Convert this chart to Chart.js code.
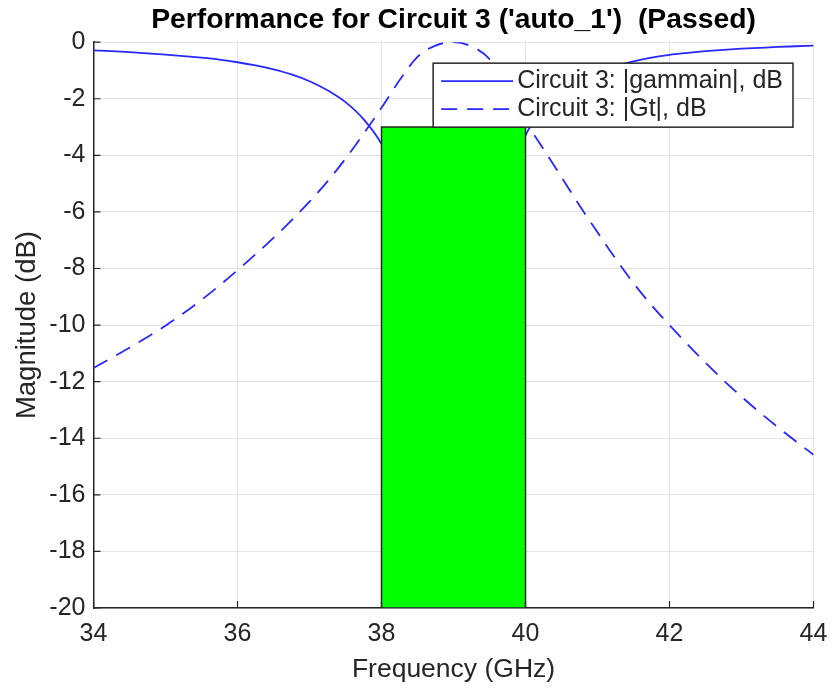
<!DOCTYPE html>
<html>
<head>
<meta charset="utf-8">
<title>Performance for Circuit 3</title>
<script src="https://cdn.jsdelivr.net/npm/chart.js@4.4.1/dist/chart.umd.min.js"></script>
<style>
  html, body { margin: 0; padding: 0; background: #fff; }
  #wrap { width: 832px; height: 690px; }
</style>
</head>
<body>
<div id="wrap"><canvas id="perfChart" width="832" height="690"></canvas></div>
<script>
// frequency grid (GHz)
const freq = [
  34.00, 34.25, 34.50, 34.75, 35.00, 35.25, 35.50, 35.75, 36.00, 36.25,
  36.50, 36.75, 37.00, 37.25, 37.50, 37.75, 38.00, 38.25, 38.50, 38.75,
  39.00, 39.25, 39.50, 39.75, 40.00, 40.25, 40.50, 40.75, 41.00, 41.25,
  41.50, 41.75, 42.00, 42.25, 42.50, 42.75, 43.00, 43.25, 43.50, 43.75, 44.00
]

// |gammain| in dB (notch around 39 GHz is hidden behind the band box)
const gammainDb = [
  -0.29, -0.32, -0.355, -0.395, -0.44, -0.49, -0.55, -0.62, -0.71, -0.82,
  -0.96, -1.14, -1.38, -1.70, -2.12, -2.72, -3.60, -5.00, -7.50, -12.0,
  -25.0, -14.0, -8.50, -5.20, -3.30, -2.35, -1.75, -1.32, -1.04, -0.84,
  -0.68, -0.55, -0.45, -0.38, -0.32, -0.27, -0.23, -0.20, -0.17, -0.145, -0.12
]

// |Gt| in dB
const gtDb = [
  -11.52, -11.16, -10.80, -10.42, -10.02, -9.58, -9.11, -8.60, -8.06, -7.50,
  -6.92, -6.30, -5.64, -4.92, -4.12, -3.24, -2.32, -1.35, -0.52, -0.12,
  0.00, -0.15, -0.60, -1.65, -2.80, -3.78, -4.77, -5.77, -6.72, -7.65,
  -8.52, -9.30, -10.00, -10.68, -11.33, -11.95, -12.53, -13.08, -13.60, -14.10, -14.58
]

// pass band box
const bandFreq = [38, 38, 40, 40, 38]
const bandDb = [-20, -3, -3, -20, -20]

// axis ticks
const xTicks = [34, 36, 38, 40, 42, 44]
const yTicks = [-20, -18, -16, -14, -12, -10, -8, -6, -4, -2, 0]

const FONT = "'Liberation Sans', Arial, sans-serif"
const TEXT = "#262626"
const BLUE = "rgb(40, 40, 255)"

const toPts = (xs, ys) => xs.map((x, i) => ({ x: x, y: ys[i] }))

// MATLAB風の内向き目盛り
const innerTicks = {
  id: "innerTicks",
  afterDatasetsDraw(chart) {
    const { ctx, chartArea } = chart
    const xs = chart.scales.x
    const ys = chart.scales.y
    ctx.save()
    ctx.strokeStyle = TEXT
    ctx.lineWidth = 1.2
    ctx.beginPath()
    xTicks.forEach((v) => {
      const px = xs.getPixelForValue(v)
      ctx.moveTo(px, chartArea.bottom)
      ctx.lineTo(px, chartArea.bottom - 7)
    })
    yTicks.forEach((v) => {
      const py = ys.getPixelForValue(v)
      ctx.moveTo(chartArea.left, py)
      ctx.lineTo(chartArea.left + 7, py)
    })
    ctx.stroke()
    ctx.restore()
  },
}

// 凡例（プロット内右上、白背景＋枠）
const boxLegend = {
  id: "boxLegend",
  afterDatasetsDraw(chart) {
    const { ctx, chartArea } = chart
    const items = chart.data.datasets.filter((d) => !d.isBand)
    ctx.save()
    ctx.font = "25px " + FONT
    const textW = Math.max(...items.map((d) => ctx.measureText(d.label).width))
    const sample = 72
    const right = chartArea.right - 20.5
    const top = chartArea.top + 21
    const w = 8 + sample + 4 + textW + 10
    const h = 64
    const left = right - w
    ctx.fillStyle = "#fff"
    ctx.fillRect(left, top, w, h)
    ctx.strokeStyle = TEXT
    ctx.lineWidth = 1.5
    ctx.strokeRect(left, top, w, h)
    items.forEach((d, i) => {
      const cy = top + 18 + i * 28
      ctx.strokeStyle = d.borderColor
      ctx.lineWidth = d.borderWidth
      ctx.setLineDash(d.borderDash || [])
      ctx.beginPath()
      ctx.moveTo(left + 8, cy)
      ctx.lineTo(left + 8 + sample, cy)
      ctx.stroke()
      ctx.setLineDash([])
      ctx.fillStyle = TEXT
      ctx.textBaseline = "middle"
      ctx.textAlign = "left"
      ctx.fillText(d.label, left + 8 + sample + 4, cy)
    })
    ctx.restore()
  },
}

const ctx = document.getElementById("perfChart").getContext("2d")

new Chart(ctx, {
  type: "line",
  data: {
    datasets: [
      {
        label: "band",
        isBand: true,
        data: toPts(bandFreq, bandDb),
        borderColor: TEXT,
        borderWidth: 1.5,
        backgroundColor: "#00ff00",
        fill: "shape",
        tension: 0,
        pointRadius: 0,
        order: 0,
      },
      {
        label: "Circuit 3: |gammain|, dB",
        data: toPts(freq, gammainDb),
        borderColor: BLUE,
        borderWidth: 1.8,
        fill: false,
        cubicInterpolationMode: "monotone",
        pointRadius: 0,
        order: 1,
      },
      {
        label: "Circuit 3: |Gt|, dB",
        data: toPts(freq, gtDb),
        borderColor: BLUE,
        borderWidth: 1.8,
        borderDash: [16, 10],
        fill: false,
        cubicInterpolationMode: "monotone",
        pointRadius: 0,
        order: 2,
      },
    ],
  },
  options: {
    responsive: false,
    animation: false,
    events: [],
    layout: { padding: { left: 0, right: 18.5, top: 0, bottom: 0 } },
    plugins: {
      legend: { display: false },
      tooltip: { enabled: false },
      title: {
        display: true,
        fullSize: false,
        text: "Performance for Circuit 3 ('auto_1')  (Passed)",
        color: "#000",
        font: { family: FONT, size: 28.3, weight: "bold" },
        padding: { top: 3, bottom: 5.2 },
      },
    },
    scales: {
      x: {
        type: "linear",
        min: 34,
        max: 44,
        afterBuildTicks: (s) => { s.ticks = xTicks.map((v) => ({ value: v })) },
        afterFit: (s) => {
          s.height = 82
          s.paddingLeft = 0
          s.paddingRight = 0
        },
        grid: { color: "#e3e3e3", lineWidth: 1, drawTicks: false },
        border: { display: true, color: TEXT, width: 1.5 },
        ticks: { color: TEXT, padding: 11, font: { family: FONT, size: 25 }, maxRotation: 0 },
        title: {
          display: true,
          text: "Frequency (GHz)",
          color: TEXT,
          font: { family: FONT, size: 26.5 },
          padding: { top: 0, bottom: 4 },
        },
      },
      y: {
        type: "linear",
        min: -20,
        max: 0,
        afterBuildTicks: (s) => { s.ticks = yTicks.map((v) => ({ value: v })) },
        afterFit: (s) => { s.width = 93.5 },
        grid: { color: "#e3e3e3", lineWidth: 1, drawTicks: false },
        border: { display: true, color: TEXT, width: 1.5 },
        ticks: { color: TEXT, padding: 8, font: { family: FONT, size: 25 } },
        title: {
          display: true,
          text: "Magnitude (dB)",
          color: TEXT,
          font: { family: FONT, size: 27.5 },
          padding: { top: 11, bottom: 0 },
        },
      },
    },
  },
  plugins: [innerTicks, boxLegend],
})
</script>
</body>
</html>
